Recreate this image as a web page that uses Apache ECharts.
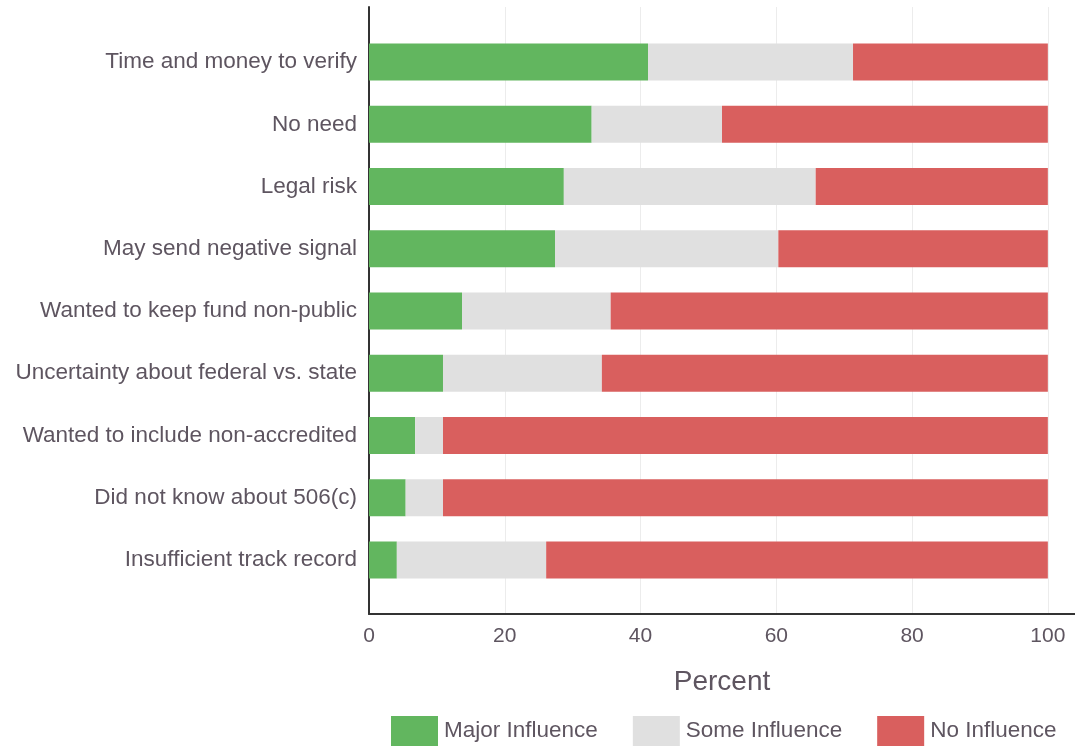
<!DOCTYPE html>
<html>
<head>
<meta charset="utf-8">
<script src="https://cdn.jsdelivr.net/npm/echarts@6/dist/echarts.min.js"></script>
<style>
  html, body { margin: 0; padding: 0; background: #fff; }
  #chart { width: 1075px; height: 746px; }
</style>
</head>
<body>
<div id="chart"></div>
<script>
// categories, top to bottom
var reasons = [
  "Time and money to verify",
  "No need",
  "Legal risk",
  "May send negative signal",
  "Wanted to keep fund non-public",
  "Uncertainty about federal vs. state",
  "Wanted to include non-accredited",
  "Did not know about 506(c)",
  "Insufficient track record"
];
var majorInfluence = [41.1, 32.8, 28.7, 27.4, 13.7, 10.9, 6.8, 5.4, 4.1];
var someInfluence  = [30.2, 19.2, 37.1, 32.9, 21.9, 23.4, 4.1, 5.5, 22.0];
var noInfluence    = [28.7, 48.0, 34.2, 39.7, 64.4, 65.7, 89.1, 89.1, 73.9];
var xTicks = [0, 20, 40, 60, 80, 100];

var textColor = "#5e5560";
var font = "Arial, 'Liberation Sans', sans-serif";

var chart = echarts.init(document.getElementById("chart"));

function makeSeries(name, data, color) {
  return {
    name: name,
    type: "bar",
    stack: "total",
    data: data,
    barWidth: 37,
    itemStyle: { color: color },
    xAxisIndex: 0,
    yAxisIndex: 0,
    silent: true
  };
}

var option = {
  animation: false,
  backgroundColor: "#fff",
  textStyle: { fontFamily: font },
  legend: {
    left: 391,
    bottom: 0,
    padding: 0,
    itemWidth: 47,
    itemHeight: 30,
    itemGap: 35,
    icon: "rect",
    textStyle: { color: textColor, fontSize: 22.5, fontFamily: font, padding: [2, 0, 0, 1] },
    data: ["Major Influence", "Some Influence", "No Influence"]
  },
  grid: [
    // bars
    { left: 369, right: 0, top: 31, bottom: 155 },
    // frame: axis lines, grid lines, ticks
    { left: 369, right: 0, top: 7, bottom: 132 }
  ],
  xAxis: [
    {
      gridIndex: 0, type: "value", min: 0, max: 104,
      show: false
    },
    {
      gridIndex: 1, type: "value", min: 0, max: 104, interval: 20,
      axisLine: { show: true, lineStyle: { color: "#333", width: 2 } },
      axisTick: { show: false },
      splitLine: {
        show: true,
        lineStyle: { color: "#ececec", width: 1 }
      },
      axisLabel: {
        color: textColor, fontSize: 21, margin: 12, fontFamily: font,
        showMaxLabel: false,
        formatter: function (v) { return xTicks.indexOf(v) >= 0 ? String(v) : ""; }
      },
      name: "Percent",
      nameLocation: "middle",
      nameGap: 54,
      nameTextStyle: { color: textColor, fontSize: 28, fontFamily: font }
    }
  ],
  yAxis: [
    {
      gridIndex: 0, type: "category", data: reasons, inverse: true,
      axisLine: { show: false },
      axisTick: { show: false },
      splitLine: { show: false },
      axisLabel: { color: textColor, fontSize: 22.5, margin: 12, fontFamily: font, padding: [3, 0, 0, 0] }
    },
    {
      gridIndex: 1, type: "value", min: 0, max: 1,
      axisLine: { show: true, lineStyle: { color: "#333", width: 2 } },
      axisTick: { show: false },
      axisLabel: { show: false },
      splitLine: { show: false }
    }
  ],
  series: [
    makeSeries("Major Influence", majorInfluence, "#62b65f"),
    makeSeries("Some Influence", someInfluence, "#e0e0e0"),
    makeSeries("No Influence", noInfluence, "#d95f5e")
  ]
};

chart.setOption(option);
</script>
</body>
</html>
